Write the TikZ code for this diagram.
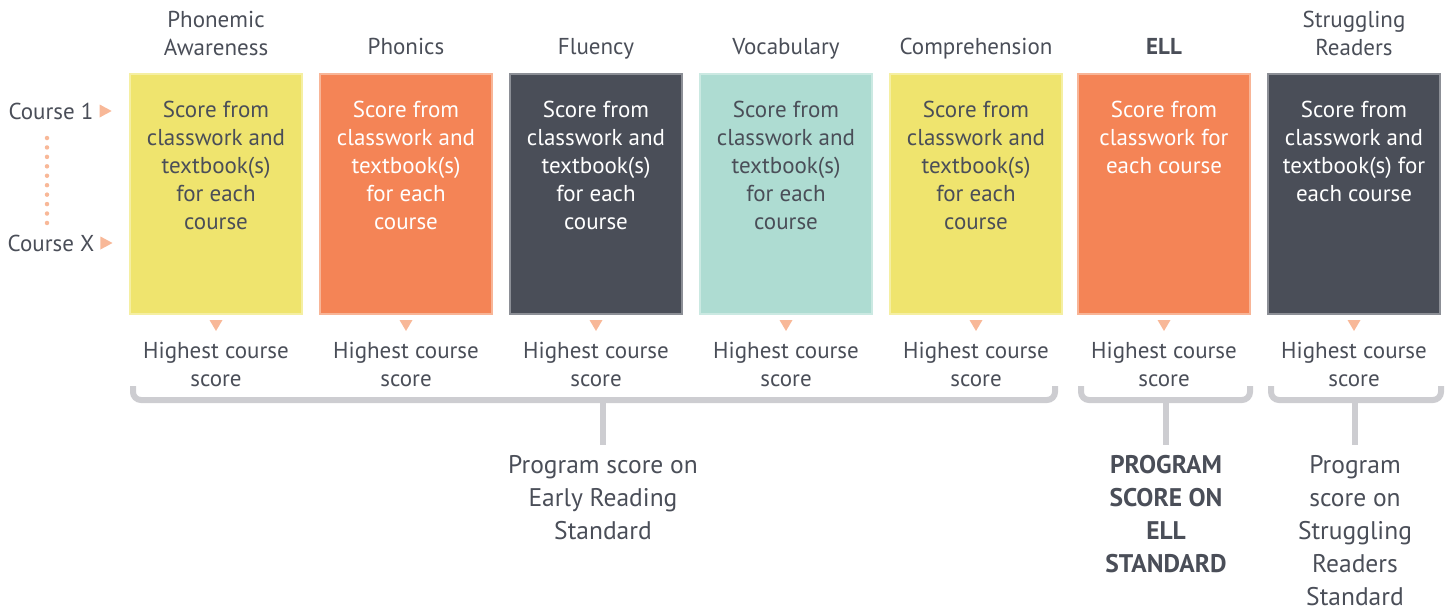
\documentclass[tikz,border=0pt]{standalone}
\usepackage{fontspec}
\setmainfont{PT Sans}
\usetikzlibrary{calc}
\definecolor{txtgrey}{HTML}{4A4E58}
\definecolor{boxyellow}{HTML}{EFE46E}
\definecolor{edgeyellow}{HTML}{F5EFA2}
\definecolor{boxorange}{HTML}{F48456}
\definecolor{edgeorange}{HTML}{F8B597}
\definecolor{boxdark}{HTML}{4A4E58}
\definecolor{edgedark}{HTML}{8C8F96}
\definecolor{boxteal}{HTML}{AEDCD2}
\definecolor{edgeteal}{HTML}{CBE9E2}
\definecolor{bracegrey}{HTML}{CDCDD1}
\definecolor{tipor}{HTML}{F8B898}
\begin{document}
\begin{tikzpicture}
  [x=1pt,y=-1pt,
   every node/.style={font=\fontsize{23}{28}\selectfont,text=txtgrey,inner sep=0pt,align=center},
   coursebox/.style={line width=2pt,minimum width=172pt,minimum height=240pt,anchor=north west},
   boxtext/.style={anchor=north},
   progtext/.style={font=\fontsize{25.5}{33}\selectfont,anchor=north},
   bracket/.style={draw=bracegrey,line width=6pt,rounded corners=8pt},
   tip/.style={fill=tipor}]
  \useasboundingbox (0,0) rectangle (1448,610);

  % course boxes
  \foreach \i/\x/\hy/\head/\fc/\tc/\txt in {
      1/129/11/{Phonemic\\Awareness}/yellow/txtgrey/{Score from\\classwork and\\textbook(s)\\for each\\course},
      2/319/38/{Phonics}/orange/white/{Score from\\classwork and\\textbook(s)\\for each\\course},
      3/509/38/{Fluency}/dark/white/{Score from\\classwork and\\textbook(s)\\for each\\course},
      4/699/38/{Vocabulary}/teal/txtgrey/{Score from\\classwork and\\textbook(s)\\for each\\course},
      5/889/38/{Comprehension}/yellow/txtgrey/{Score from\\classwork and\\textbook(s)\\for each\\course},
      6/1077/38/{\textbf{ELL}}/orange/white/{Score from\\classwork for\\each course},
      7/1267/11/{Struggling\\Readers}/dark/white/{Score from\\classwork and\\textbook(s) for\\each course}}
  {
    \node[coursebox,fill=box\fc,draw=edge\fc] (b\i) at (\x,73) {};
    \node[anchor=north] (t\i) at ($(b\i.north)+(0,\hy-73)$) {\head};
    \node[boxtext,text=\tc] (s\i) at ($(b\i.north)+(0,28)$) {\txt};
    \fill[tip] ($(b\i.south)+(-6.5,5)$) -- ($(b\i.south)+(6.5,5)$) -- ($(b\i.south)+(0,16)$) -- cycle;
    \node[anchor=north] (h\i) at ($(b\i.south)+(0,27)$) {Highest course\\score};
  }

  % course labels on the left
  \node (c1) at (51,111) {Course 1};
  \node (cx) at (51,243) {Course X};
  \fill[tip] ($(c1.east)+(6,-6.5)$) -- ($(c1.east)+(6,6.5)$) -- ($(c1.east)+(18,0)$) -- cycle;
  \fill[tip] ($(cx.east)+(6,-6.5)$) -- ($(cx.east)+(6,6.5)$) -- ($(cx.east)+(18,0)$) -- cycle;
  \draw[tipor,line width=4.5pt,line cap=round,dash pattern=on 0pt off 9.44pt]
    (47,138) -- (47,223);

  % program scores
  \node[progtext] (p1) at (603,455) {Program score on\\Early Reading\\Standard};
  \node[progtext,font=\fontsize{25.5}{33}\selectfont\bfseries] (p2) at (1166,455) {PROGRAM\\SCORE ON\\ELL\\STANDARD};
  \node[progtext] (p3) at (1355,455) {Program\\score on\\Struggling\\Readers\\Standard};

  % brackets
  \draw[bracket] (133,386) -- (133,400) -- (1055,400) -- (1055,386);
  \draw[bracket] (1081,386) -- (1081,400) -- (1250,400) -- (1250,386);
  \draw[bracket] (1271,386) -- (1271,400) -- (1441,400) -- (1441,386);
  \foreach \p in {p1,p2,p3}
  {
    \draw[draw=bracegrey,line width=6pt] (\p.north |- 0,398) -- ($(\p.north)+(0,-10)$);
    \fill[bracegrey] ($(\p.north |- 0,397)+(-9,0)$) .. controls ($(\p.north |- 0,403)$) .. ($(\p.north |- 0,410)+(0,0)$)
      .. controls ($(\p.north |- 0,403)$) .. ($(\p.north |- 0,397)+(9,0)$) -- cycle;
  }
\end{tikzpicture}
\end{document}
